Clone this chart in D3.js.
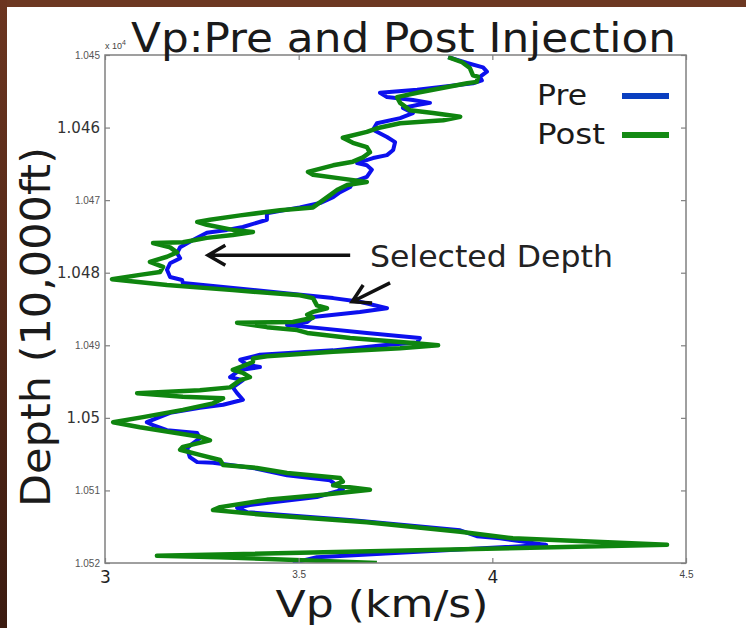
<!DOCTYPE html>
<html><head><meta charset="utf-8">
<script src="https://cdn.jsdelivr.net/npm/d3@7"></script>
<style>body{margin:0;background:#fff}svg{display:block}</style>
</head><body>
<svg id="c" width="746" height="628"></svg>
<script>
// ---------------- data ----------------
const preDepth = [10450.3,10451.1,10451.7,10452.3,10453.0,10453.5,10453.9,10454.8,10455.2,10455.8,10456.2,10456.6,10456.9,10457.3,10458.0,10458.7,10459.4,10460.3,10461.3,10462.0,10463.1,10463.8,10464.2,10464.9,10465.2,10465.8,10466.8,10467.5,10468.2,10468.9,10469.6,10470.4,10471.0,10471.8,10472.7,10473.7,10474.1,10474.5,10475.5,10476.5,10477.3,10478.0,10478.7,10479.6,10480.6,10481.0,10481.4,10482.8,10483.5,10484.0,10484.9,10485.4,10486.1,10486.8,10487.2,10487.6,10488.3,10489.0,10489.6,10490.0,10490.7,10491.3,10492.0,10492.7,10493.0,10493.4,10494.4,10494.8,10495.8,10496.6,10497.5,10498.2,10498.6,10499.3,10500.6,10501.0,10501.7,10502.1,10502.8,10503.5,10504.2,10505.4,10506.1,10506.2,10506.9,10507.9,10508.6,10509.3,10509.9,10510.9,10512.0,10512.4,10513.0,10514.1,10515.5,10516.3,10516.6,10517.5,10519.2,10520.0];
const preVp = [3.886,3.935,3.976,3.986,3.968,3.973,3.950,3.806,3.710,3.728,3.795,3.839,3.806,3.769,3.795,3.762,3.702,3.692,3.728,3.749,3.744,3.728,3.692,3.651,3.676,3.689,3.676,3.640,3.633,3.607,3.589,3.555,3.503,3.418,3.418,3.356,3.315,3.263,3.227,3.194,3.186,3.194,3.168,3.160,3.168,3.199,3.201,3.460,3.589,3.658,3.728,3.658,3.537,3.522,3.470,3.547,3.676,3.813,3.806,3.718,3.589,3.400,3.349,3.367,3.400,3.349,3.323,3.356,3.330,3.341,3.356,3.305,3.245,3.168,3.108,3.124,3.160,3.238,3.245,3.227,3.212,3.219,3.238,3.279,3.382,3.470,3.581,3.599,3.614,3.547,3.374,3.341,3.367,3.640,3.917,3.960,4.020,4.139,3.547,3.485];
const postDepth = [10450.3,10451.0,10451.8,10452.8,10453.0,10453.7,10453.9,10455.2,10455.8,10456.6,10457.6,10458.0,10458.5,10459.0,10459.4,10460.1,10460.6,10461.4,10462.1,10462.7,10463.4,10464.1,10464.7,10465.2,10466.1,10466.5,10467.0,10467.5,10467.9,10468.6,10469.3,10470.3,10471.0,10471.4,10472.1,10472.7,10473.0,10473.4,10474.1,10474.4,10474.8,10475.2,10475.8,10475.9,10476.5,10477.2,10477.8,10478.5,10479.2,10479.9,10480.3,10480.9,10481.7,10482.4,10483.1,10483.5,10484.5,10484.9,10485.4,10485.8,10486.2,10486.8,10486.9,10487.5,10487.9,10488.3,10489.0,10489.7,10490.0,10490.4,10490.9,10491.5,10491.8,10492.3,10493.0,10493.4,10493.8,10494.4,10494.8,10495.8,10496.2,10496.6,10497.1,10497.3,10498.0,10498.9,10499.9,10500.6,10501.3,10502.6,10503.1,10504.0,10504.4,10505.1,10505.8,10506.5,10506.9,10507.6,10508.3,10508.8,10509.3,10509.9,10510.6,10511.3,10512.3,10512.7,10513.4,10514.4,10515.7,10516.6,10517.5,10519.0,10519.2,10520.0];
const postVp = [3.886,3.922,3.942,3.950,3.963,3.960,3.935,3.806,3.754,3.762,3.787,3.847,3.917,3.873,3.762,3.702,3.676,3.614,3.640,3.676,3.684,3.666,3.640,3.589,3.524,3.537,3.607,3.676,3.625,3.599,3.581,3.555,3.537,3.452,3.349,3.271,3.238,3.263,3.330,3.382,3.330,3.263,3.201,3.124,3.168,3.186,3.160,3.116,3.150,3.142,3.090,3.018,3.160,3.330,3.503,3.537,3.547,3.573,3.537,3.522,3.537,3.485,3.341,3.418,3.496,3.522,3.633,3.795,3.860,3.762,3.589,3.418,3.382,3.382,3.349,3.330,3.356,3.374,3.349,3.323,3.245,3.083,3.201,3.305,3.279,3.201,3.098,3.021,3.090,3.245,3.271,3.201,3.194,3.245,3.297,3.305,3.392,3.470,3.607,3.614,3.589,3.684,3.563,3.418,3.297,3.279,3.418,3.676,3.917,4.053,4.451,3.134,3.297,3.702];
const seriesNames = ["Pre", "Post"];
const xDomain = [3, 4.5];
const yDomain = [10450, 10520];
const xTicks = [3, 3.5, 4, 4.5];
const xTickLabels = ["3", "3.5", "4", "4.5"];
const yTicks = [10450, 10460, 10470, 10480, 10490, 10500, 10510, 10520];
const yTickLabels = ["1.045", "1.046", "1.047", "1.048", "1.049", "1.05", "1.051", "1.052"];
const titleText = "Vp:Pre and Post Injection";
const xLabelText = "Vp (km/s)";
const yLabelText = "Depth (10,000ft)";
const exponentBase = "x 10";
const exponentPower = "4";
const annotationText = "Selected Depth";
const annotationAt = [3.684, 10479.2];
const arrowFromVp = [3.633, 3.736];
const arrowFromDepth = [10477.6, 10481.4];
const arrowToVp = [3.266, 3.638];
const arrowToDepth = [10477.6, 10484.0];

// ---------------- rendering ----------------
const W = 746, H = 628;
const P = {l: 105, r: 686, t: 55, b: 563};
const svg = d3.select("#c");
const defs = svg.append("defs");
const grad = defs.append("linearGradient").attr("id", "lg").attr("x1", 0).attr("y1", 0).attr("x2", 0).attr("y2", 1);
grad.append("stop").attr("offset", "0%").attr("stop-color", "#6b3520");
grad.append("stop").attr("offset", "100%").attr("stop-color", "#3b1b10");
defs.append("clipPath").attr("id", "clip").append("rect")
  .attr("x", P.l).attr("y", P.t).attr("width", P.r - P.l).attr("height", P.b - P.t);

svg.append("rect").attr("width", W).attr("height", H).attr("fill", "#6d3822");
svg.append("rect").attr("x", 0).attr("y", 0).attr("width", 7).attr("height", H).attr("fill", "url(#lg)");
svg.append("rect").attr("x", 7).attr("y", 7).attr("width", W - 7).attr("height", H - 7).attr("fill", "#ffffff");

const x = d3.scaleLinear().domain(xDomain).range([P.l, P.r]);
const y = d3.scaleLinear().domain(yDomain).range([P.t, P.b]);

const pre = preDepth.map((d, i) => ({d, v: preVp[i]}));
const post = postDepth.map((d, i) => ({d, v: postVp[i]}));
const line = d3.line().x(p => x(p.v)).y(p => y(p.d));

const plot = svg.append("g").attr("clip-path", "url(#clip)");
plot.append("path").datum(pre).attr("d", line).attr("fill", "none")
  .attr("stroke", "#0c10ee").attr("stroke-width", 4).attr("stroke-linejoin", "round");
plot.append("path").datum(post).attr("d", line).attr("fill", "none")
  .attr("stroke", "#0f850f").attr("stroke-width", 4.5).attr("stroke-linejoin", "round");

// axes
const bigX = new Set(["3", "4"]);
const bigY = new Set(["1.046", "1.048", "1.05"]);
function styleAxis(g) {
  g.select(".domain").remove();
  g.selectAll(".tick line").attr("stroke", "#808080").attr("stroke-width", 1.2);
}
const gx = svg.append("g").attr("transform", `translate(0,${P.b})`)
  .call(d3.axisBottom(x).tickValues(xTicks).tickFormat((d, i) => xTickLabels[i]).tickSizeInner(-5).tickSizeOuter(0).tickPadding(8));
styleAxis(gx);
gx.selectAll("text").each(function(d, i) {
  const big = bigX.has(xTickLabels[i]);
  d3.select(this).attr("font-family", big ? "DejaVu Sans" : "Liberation Sans")
    .attr("font-size", big ? 17 : 10).attr("fill", big ? "#222" : "#444");
});
const gy = svg.append("g").attr("transform", `translate(${P.l},0)`)
  .call(d3.axisLeft(y).tickValues(yTicks).tickFormat((d, i) => yTickLabels[i]).tickSizeInner(-5).tickSizeOuter(0).tickPadding(5));
styleAxis(gy);
gy.selectAll("text").each(function(d, i) {
  const big = bigY.has(yTickLabels[i]);
  d3.select(this).attr("font-family", big ? "DejaVu Sans" : "Liberation Sans")
    .attr("font-size", big ? 15 : 10).attr("fill", big ? "#333" : "#555");
});
const gt = svg.append("g").attr("transform", `translate(0,${P.t})`)
  .call(d3.axisTop(x).tickValues(xTicks).tickFormat(() => "").tickSizeInner(-5).tickSizeOuter(0));
styleAxis(gt);
const gr = svg.append("g").attr("transform", `translate(${P.r},0)`)
  .call(d3.axisRight(y).tickValues(yTicks).tickFormat(() => "").tickSizeInner(-5).tickSizeOuter(0));
styleAxis(gr);
svg.append("rect").attr("x", P.l).attr("y", P.t).attr("width", P.r - P.l).attr("height", P.b - P.t)
  .attr("fill", "none").attr("stroke", "#808080").attr("stroke-width", 1.5);

// exponent
const ex = svg.append("text").attr("x", P.l).attr("y", P.t - 6)
  .attr("font-family", "Liberation Sans").attr("font-size", 9).attr("fill", "#444");
ex.append("tspan").text(exponentBase);
ex.append("tspan").attr("dy", -4).attr("font-size", 7).text(exponentPower);

// title and labels
svg.append("text").attr("x", 131).attr("y", 52).text(titleText)
  .attr("font-family", "DejaVu Sans").attr("font-size", 40).attr("fill", "#1a1a1a")
  .attr("textLength", 545).attr("lengthAdjust", "spacingAndGlyphs");
svg.append("text").attr("x", 382).attr("y", 617).attr("text-anchor", "middle").text(xLabelText)
  .attr("font-family", "DejaVu Sans").attr("font-size", 38).attr("fill", "#1a1a1a")
  .attr("textLength", 213).attr("lengthAdjust", "spacingAndGlyphs");
svg.append("text").attr("transform", "translate(50,327) rotate(-90)").attr("text-anchor", "middle").text(yLabelText)
  .attr("font-family", "DejaVu Sans").attr("font-size", 40).attr("fill", "#1a1a1a")
  .attr("textLength", 360).attr("lengthAdjust", "spacingAndGlyphs");

// legend
const legColors = ["#0a3fc0", "#148a14"];
const legW = [50, 68];
seriesNames.forEach((n, i) => {
  const yy = 105 + i * 39;
  svg.append("text").attr("x", 537).attr("y", yy).text(n)
    .attr("font-family", "DejaVu Sans").attr("font-size", 28).attr("fill", "#1a1a1a")
    .attr("textLength", legW[i]).attr("lengthAdjust", "spacingAndGlyphs");
  svg.append("line").attr("x1", 622).attr("x2", 669).attr("y1", yy - 9).attr("y2", yy - 9)
    .attr("stroke", legColors[i]).attr("stroke-width", 6);
});

// annotation
svg.append("text").attr("x", x(annotationAt[0])).attr("y", y(annotationAt[1])).text(annotationText)
  .attr("font-family", "DejaVu Sans").attr("font-size", 30).attr("fill", "#222")
  .attr("textLength", 243).attr("lengthAdjust", "spacingAndGlyphs");
arrowFromVp.forEach((fv, i) => {
  const x1 = x(fv), y1 = y(arrowFromDepth[i]), x2 = x(arrowToVp[i]), y2 = y(arrowToDepth[i]);
  const ang = Math.atan2(y1 - y2, x1 - x2);
  const L = 20, a = 30 * Math.PI / 180;
  const w1 = [x2 + L * Math.cos(ang + a), y2 + L * Math.sin(ang + a)];
  const w2 = [x2 + L * Math.cos(ang - a), y2 + L * Math.sin(ang - a)];
  svg.append("path").attr("d", `M${x1},${y1}L${x2},${y2}M${w1[0]},${w1[1]}L${x2},${y2}L${w2[0]},${w2[1]}`)
    .attr("fill", "none").attr("stroke", "#111").attr("stroke-width", 3.5).attr("stroke-linejoin", "miter");
});
</script>
</body></html>
